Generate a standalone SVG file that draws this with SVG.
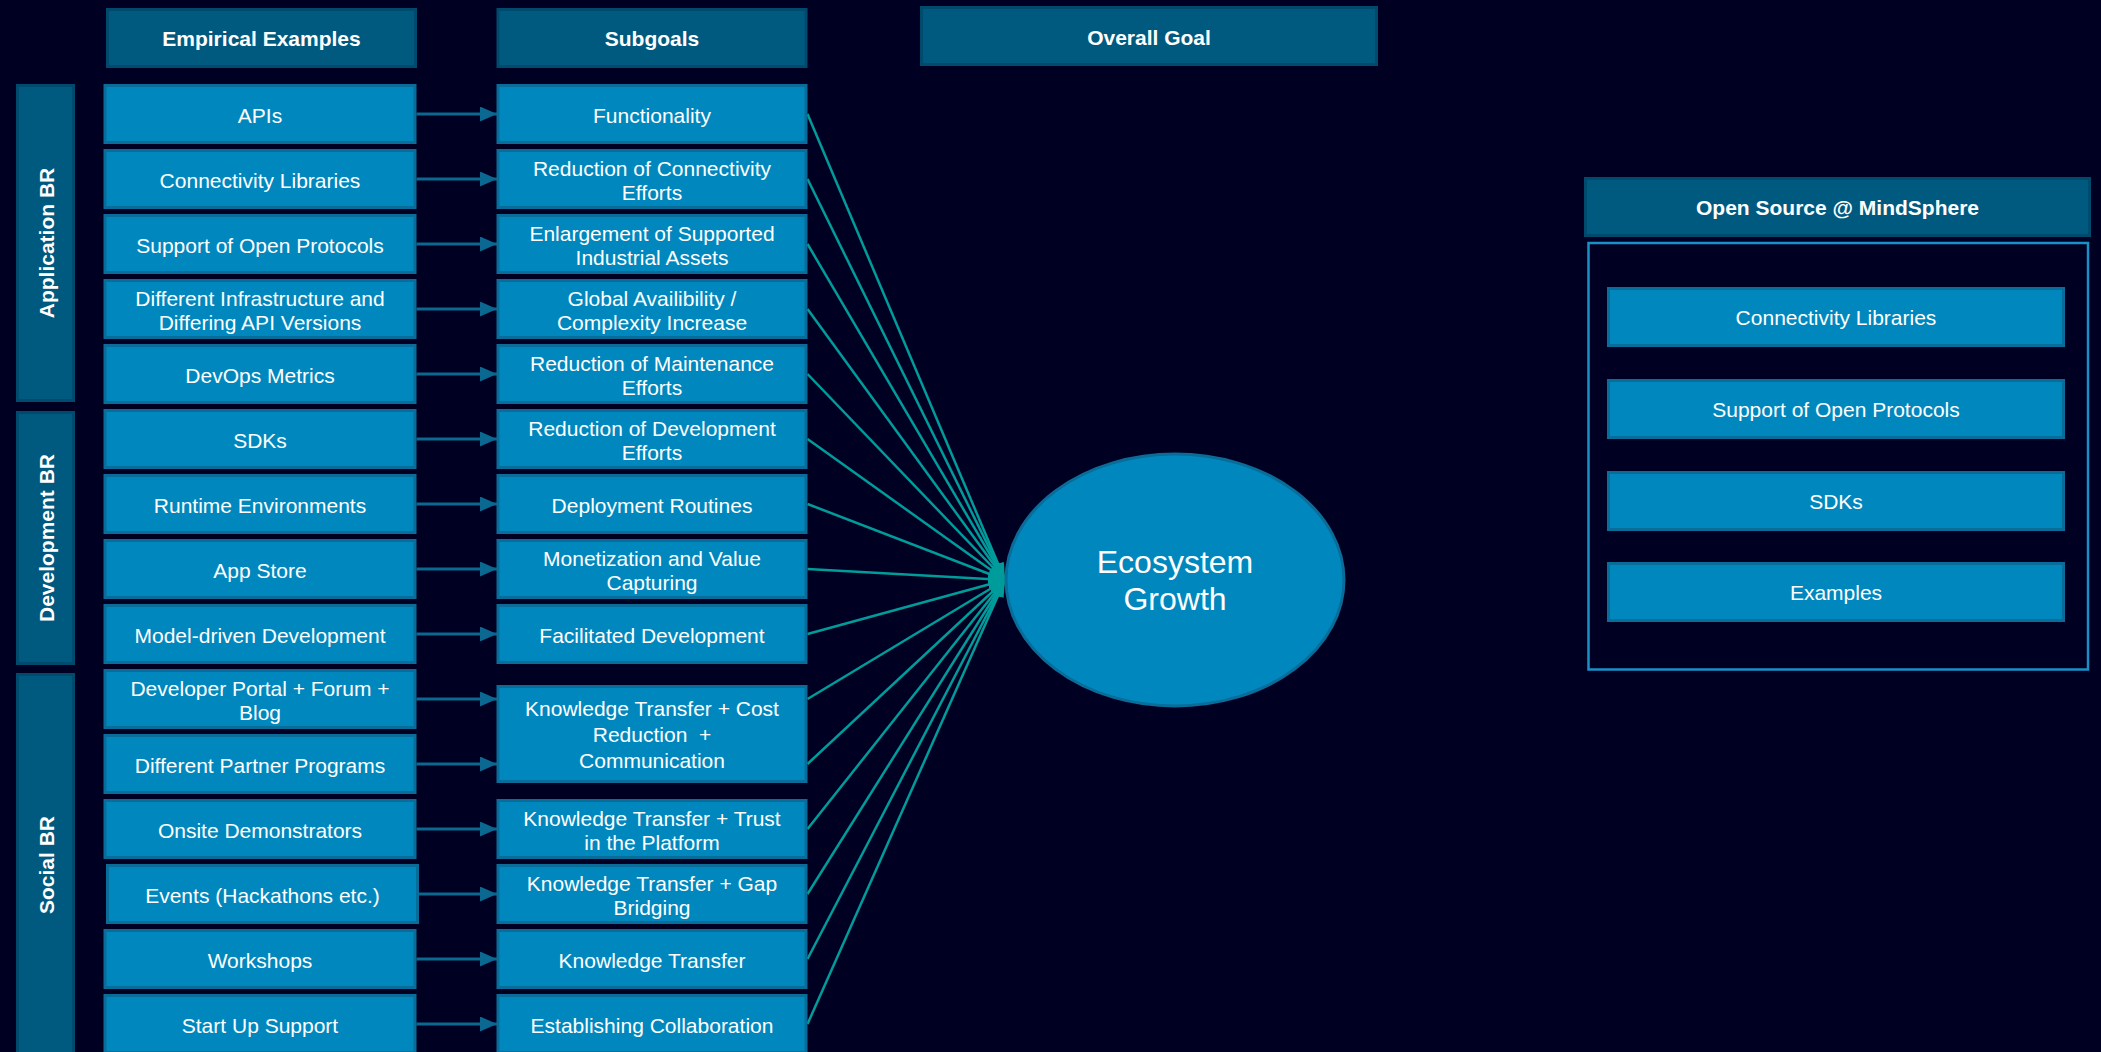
<svg xmlns="http://www.w3.org/2000/svg" width="2101" height="1052" viewBox="0 0 2101 1052">
  <style>
    text { font-family: "Liberation Sans", Arial, sans-serif; fill: #ffffff; text-anchor: middle; }
    .lbl { font-size: 21px; }
    .hdr { font-size: 21px; font-weight: bold; }
    .big { font-size: 32px; }
    .box { fill: #0088be; stroke: #0a6c98; stroke-width: 3; }
    .head { fill: #005a80; stroke: #004b6d; stroke-width: 3; }
    .frame { fill: none; stroke: #1a90c8; stroke-width: 2.5; }
    .flow { stroke: #0b6890; stroke-width: 3; fill: none; marker-end: url(#arrBlue); }
    .goal { stroke: #009b9b; stroke-width: 2.5; fill: none; marker-end: url(#arrTeal); }
  </style>
  <defs>
    <marker id="arrBlue" viewBox="0 0 10 10" refX="10" refY="5" markerWidth="17" markerHeight="15" preserveAspectRatio="none" markerUnits="userSpaceOnUse" orient="auto">
      <path d="M0,0 L10,5 L0,10 z" fill="#0b6890"/>
    </marker>
    <marker id="arrTeal" viewBox="0 0 10 10" refX="10" refY="5" markerWidth="17" markerHeight="12" preserveAspectRatio="none" markerUnits="userSpaceOnUse" orient="auto">
      <path d="M0,0 L10,5 L0,10 z" fill="#009b9b"/>
    </marker>
  </defs>

  <rect width="2101" height="1052" fill="#000022"/>

  <!-- column headers -->
  <g id="hdr-examples"><rect class="head" x="107.5" y="9.5" width="308" height="57"/><text class="hdr" x="261.5" y="46">Empirical Examples</text></g>
  <g id="hdr-subgoals"><rect class="head" x="498" y="9.5" width="308" height="57"/><text class="hdr" x="652" y="46">Subgoals</text></g>
  <g id="hdr-goal"><rect class="head" x="921.5" y="7.5" width="455" height="57"/><text class="hdr" x="1149" y="44.5">Overall Goal</text></g>

  <!-- side bars -->
  <g id="br-application"><rect class="head" x="17.5" y="85.5" width="56" height="315"/><text class="hdr" transform="translate(53.5,243) rotate(-90)">Application BR</text></g>
  <g id="br-development"><rect class="head" x="17.5" y="412.5" width="56" height="251"/><text class="hdr" transform="translate(53.5,538) rotate(-90)">Development BR</text></g>
  <g id="br-social"><rect class="head" x="17.5" y="674.5" width="56" height="390"/><text class="hdr" transform="translate(53.5,865) rotate(-90)">Social BR</text></g>

  <!-- connectors -->
  <g id="connectors">
    <line class="flow" x1="416.5" y1="114" x2="497" y2="114"/>
    <line class="flow" x1="416.5" y1="179" x2="497" y2="179"/>
    <line class="flow" x1="416.5" y1="244" x2="497" y2="244"/>
    <line class="flow" x1="416.5" y1="309" x2="497" y2="309"/>
    <line class="flow" x1="416.5" y1="374" x2="497" y2="374"/>
    <line class="flow" x1="416.5" y1="439" x2="497" y2="439"/>
    <line class="flow" x1="416.5" y1="504" x2="497" y2="504"/>
    <line class="flow" x1="416.5" y1="569" x2="497" y2="569"/>
    <line class="flow" x1="416.5" y1="634" x2="497" y2="634"/>
    <line class="flow" x1="416.5" y1="699" x2="497" y2="699"/>
    <line class="flow" x1="416.5" y1="764" x2="497" y2="764"/>
    <line class="flow" x1="416.5" y1="829" x2="497" y2="829"/>
    <line class="flow" x1="419" y1="894" x2="497" y2="894"/>
    <line class="flow" x1="416.5" y1="959" x2="497" y2="959"/>
    <line class="flow" x1="416.5" y1="1024" x2="497" y2="1024"/>

    <line class="goal" x1="807.5" y1="114" x2="1005" y2="580"/>
    <line class="goal" x1="807.5" y1="179" x2="1005" y2="580"/>
    <line class="goal" x1="807.5" y1="244" x2="1005" y2="580"/>
    <line class="goal" x1="807.5" y1="309" x2="1005" y2="580"/>
    <line class="goal" x1="807.5" y1="374" x2="1005" y2="580"/>
    <line class="goal" x1="807.5" y1="439" x2="1005" y2="580"/>
    <line class="goal" x1="807.5" y1="504" x2="1005" y2="580"/>
    <line class="goal" x1="807.5" y1="569" x2="1005" y2="580"/>
    <line class="goal" x1="807.5" y1="634" x2="1005" y2="580"/>
    <line class="goal" x1="807.5" y1="699" x2="1005" y2="580"/>
    <line class="goal" x1="807.5" y1="764" x2="1005" y2="580"/>
    <line class="goal" x1="807.5" y1="829" x2="1005" y2="580"/>
    <line class="goal" x1="807.5" y1="894" x2="1005" y2="580"/>
    <line class="goal" x1="807.5" y1="959" x2="1005" y2="580"/>
    <line class="goal" x1="807.5" y1="1024" x2="1005" y2="580"/>
  </g>

  <!-- empirical examples -->
  <g id="ex-apis"><rect class="box" x="105" y="85.5" width="310" height="57"/><text class="lbl" x="260" y="122.5">APIs</text></g>
  <g id="ex-connectivity"><rect class="box" x="105" y="150.5" width="310" height="57"/><text class="lbl" x="260" y="187.5">Connectivity Libraries</text></g>
  <g id="ex-protocols"><rect class="box" x="105" y="215.5" width="310" height="57"/><text class="lbl" x="260" y="252.5">Support of Open Protocols</text></g>
  <g id="ex-infrastructure"><rect class="box" x="105" y="280.5" width="310" height="57"/><text class="lbl" x="260" y="305.5">Different Infrastructure and</text><text class="lbl" x="260" y="329.5">Differing API Versions</text></g>
  <g id="ex-devops"><rect class="box" x="105" y="345.5" width="310" height="57"/><text class="lbl" x="260" y="382.5">DevOps Metrics</text></g>
  <g id="ex-sdks"><rect class="box" x="105" y="410.5" width="310" height="57"/><text class="lbl" x="260" y="447.5">SDKs</text></g>
  <g id="ex-runtime"><rect class="box" x="105" y="475.5" width="310" height="57"/><text class="lbl" x="260" y="512.5">Runtime Environments</text></g>
  <g id="ex-appstore"><rect class="box" x="105" y="540.5" width="310" height="57"/><text class="lbl" x="260" y="577.5">App Store</text></g>
  <g id="ex-modeldriven"><rect class="box" x="105" y="605.5" width="310" height="57"/><text class="lbl" x="260" y="642.5">Model-driven Development</text></g>
  <g id="ex-portal"><rect class="box" x="105" y="670.5" width="310" height="57"/><text class="lbl" x="260" y="695.5">Developer Portal + Forum +</text><text class="lbl" x="260" y="719.5">Blog</text></g>
  <g id="ex-partner"><rect class="box" x="105" y="735.5" width="310" height="57"/><text class="lbl" x="260" y="772.5">Different Partner Programs</text></g>
  <g id="ex-onsite"><rect class="box" x="105" y="800.5" width="310" height="57"/><text class="lbl" x="260" y="837.5">Onsite Demonstrators</text></g>
  <g id="ex-events"><rect class="box" x="107.5" y="865.5" width="310" height="57"/><text class="lbl" x="262.5" y="902.5">Events (Hackathons etc.)</text></g>
  <g id="ex-workshops"><rect class="box" x="105" y="930.5" width="310" height="57"/><text class="lbl" x="260" y="967.5">Workshops</text></g>
  <g id="ex-startup"><rect class="box" x="105" y="995.5" width="310" height="57"/><text class="lbl" x="260" y="1032.5">Start Up Support</text></g>

  <!-- subgoals -->
  <g id="sg-functionality"><rect class="box" x="498" y="85.5" width="308" height="57"/><text class="lbl" x="652" y="122.5">Functionality</text></g>
  <g id="sg-connectivity"><rect class="box" x="498" y="150.5" width="308" height="57"/><text class="lbl" x="652" y="176">Reduction of Connectivity</text><text class="lbl" x="652" y="200">Efforts</text></g>
  <g id="sg-assets"><rect class="box" x="498" y="215.5" width="308" height="57"/><text class="lbl" x="652" y="241">Enlargement of Supported</text><text class="lbl" x="652" y="265">Industrial Assets</text></g>
  <g id="sg-availability"><rect class="box" x="498" y="280.5" width="308" height="57"/><text class="lbl" x="652" y="306">Global Availibility /</text><text class="lbl" x="652" y="330">Complexity Increase</text></g>
  <g id="sg-maintenance"><rect class="box" x="498" y="345.5" width="308" height="57"/><text class="lbl" x="652" y="371">Reduction of Maintenance</text><text class="lbl" x="652" y="395">Efforts</text></g>
  <g id="sg-development"><rect class="box" x="498" y="410.5" width="308" height="57"/><text class="lbl" x="652" y="436">Reduction of Development</text><text class="lbl" x="652" y="460">Efforts</text></g>
  <g id="sg-deployment"><rect class="box" x="498" y="475.5" width="308" height="57"/><text class="lbl" x="652" y="512.5">Deployment Routines</text></g>
  <g id="sg-monetization"><rect class="box" x="498" y="540.5" width="308" height="57"/><text class="lbl" x="652" y="566">Monetization and Value</text><text class="lbl" x="652" y="590">Capturing</text></g>
  <g id="sg-facilitated"><rect class="box" x="498" y="605.5" width="308" height="57"/><text class="lbl" x="652" y="642.5">Facilitated Development</text></g>
  <g id="sg-kt-cost"><rect class="box" x="498" y="686.5" width="308" height="95"/><text class="lbl" x="652" y="716">Knowledge Transfer + Cost</text><text class="lbl" x="652" y="742" xml:space="preserve">Reduction  +</text><text class="lbl" x="652" y="768">Communication</text></g>
  <g id="sg-kt-trust"><rect class="box" x="498" y="800.5" width="308" height="57"/><text class="lbl" x="652" y="826">Knowledge Transfer + Trust</text><text class="lbl" x="652" y="850">in the Platform</text></g>
  <g id="sg-kt-gap"><rect class="box" x="498" y="865.5" width="308" height="57"/><text class="lbl" x="652" y="891">Knowledge Transfer + Gap</text><text class="lbl" x="652" y="915">Bridging</text></g>
  <g id="sg-kt"><rect class="box" x="498" y="930.5" width="308" height="57"/><text class="lbl" x="652" y="967.5">Knowledge Transfer</text></g>
  <g id="sg-collaboration"><rect class="box" x="498" y="995.5" width="308" height="57"/><text class="lbl" x="652" y="1032.5">Establishing Collaboration</text></g>

  <!-- overall goal -->
  <g id="goal-ecosystem"><ellipse cx="1175" cy="580" rx="169" ry="126" fill="#0088be" stroke="#0a6c98" stroke-width="3"/><text class="big" x="1175" y="573">Ecosystem</text><text class="big" x="1175" y="610">Growth</text></g>

  <!-- open source panel -->
  <g id="os-panel">
    <rect class="head" x="1585.5" y="178.5" width="504" height="57"/>
    <text class="hdr" x="1837.5" y="215">Open Source @ MindSphere</text>
    <rect class="frame" x="1588.5" y="243" width="499.5" height="426.5"/>
  </g>
  <g id="os-connectivity"><rect class="box" x="1608.5" y="288.5" width="455" height="57"/><text class="lbl" x="1836" y="325">Connectivity Libraries</text></g>
  <g id="os-protocols"><rect class="box" x="1608.5" y="380.5" width="455" height="57"/><text class="lbl" x="1836" y="417">Support of Open Protocols</text></g>
  <g id="os-sdks"><rect class="box" x="1608.5" y="472.5" width="455" height="57"/><text class="lbl" x="1836" y="509">SDKs</text></g>
  <g id="os-examples"><rect class="box" x="1608.5" y="563.5" width="455" height="57"/><text class="lbl" x="1836" y="600">Examples</text></g>
</svg>
